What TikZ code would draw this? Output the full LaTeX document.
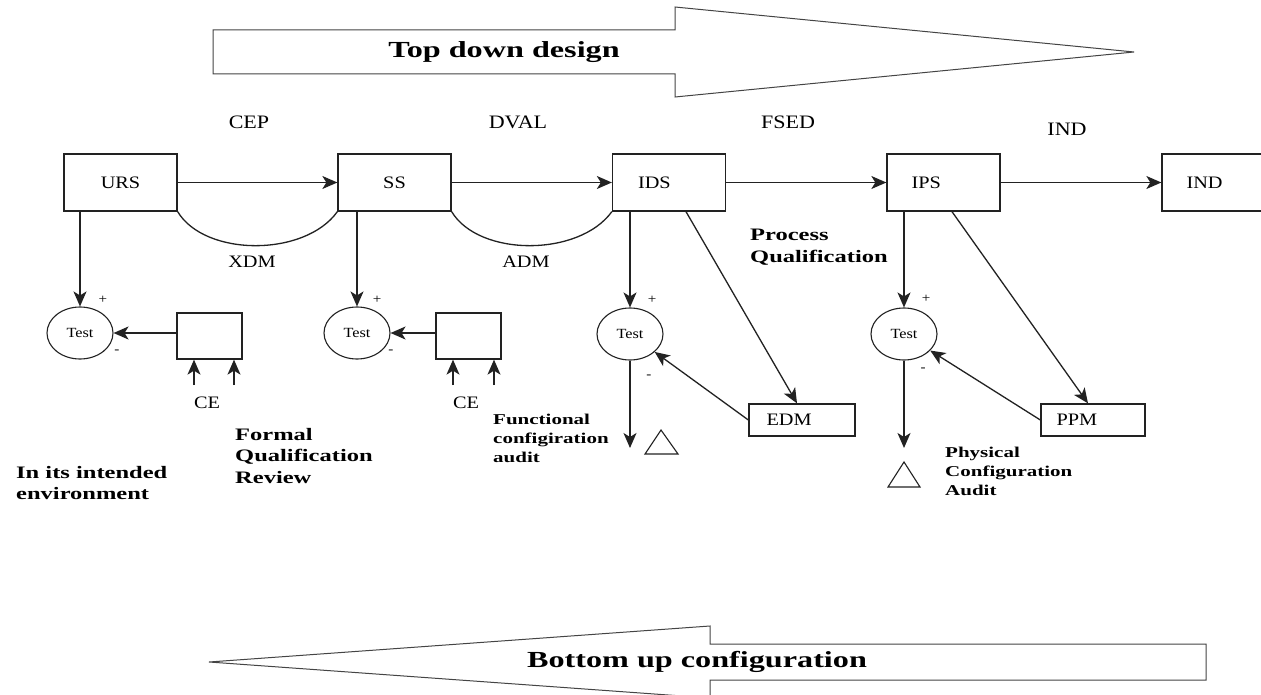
\documentclass[tikz,border=0pt]{standalone}
\usepackage{fontspec}
\setmainfont{Liberation Serif}
\newfontfamily\wideserif[FakeStretch=1.16]{Liberation Serif}
\newfontfamily\widebold[FakeStretch=1.4]{Liberation Serif}
\usetikzlibrary{arrows.meta,shapes.geometric}

\definecolor{ink}{HTML}{222222}
\definecolor{outline}{HTML}{444444}

\begin{document}
\begin{tikzpicture}[x=1pt,y=-1pt,
  line/.style={draw=ink, line width=1.3pt},
  arr/.style={line, -{Stealth[length=15pt,width=13pt,inset=4pt]}},
  boxfont/.style={font=\wideserif\fontsize{17.5}{20}\selectfont},
  stagebox/.style={draw=ink, line width=1.3pt, minimum width=113pt, minimum height=57pt,
    inner sep=0pt, boxfont},
  modelbox/.style={draw=ink, line width=1.3pt, minimum height=32pt, inner sep=0pt, boxfont},
  boxname/.style={anchor=west, inner sep=0pt, boxfont},
  testnode/.style={ellipse, draw=ink, line width=1.1pt, minimum width=66pt, minimum height=52pt,
    inner sep=0pt, font=\wideserif\fontsize{14}{16}\selectfont},
  feedbox/.style={draw=ink, line width=1.3pt, minimum width=65pt, minimum height=46pt, inner sep=0pt},
  phase/.style={inner sep=0pt, font=\wideserif\fontsize{19}{22}\selectfont},
  plain/.style={inner sep=0pt, boxfont},
  sign/.style={inner sep=0pt, font=\wideserif\fontsize{13}{15}\selectfont},
  note/.style={inner sep=0pt, align=left, anchor=north west, font=\widebold\bfseries\fontsize{17.5}{21.5}\selectfont},
  smallnote/.style={inner sep=0pt, align=left, anchor=north west, font=\widebold\bfseries\fontsize{15}{19}\selectfont},
  bigarrow/.style={draw=outline, line width=1pt, fill=white},
  bigtext/.style={inner sep=0pt, font=\widebold\bfseries\fontsize{23}{26}\selectfont}
]
\useasboundingbox (0,0) rectangle (1261,695);
\fill[white] (0,0) rectangle (1261,695);
\clip (0,0) rectangle (1261,695);

% broad direction arrows
\draw[bigarrow] (213,30) -- (675,30) -- (675,7) -- (1134,52) -- (675,97) -- (675,74) -- (213,74) -- cycle;
\node[bigtext] (topdown) at (504,52) {Top down design};
\draw[bigarrow] (1206,644) -- (710,644) -- (710,626) -- (209,662) -- (710,698) -- (710,680) -- (1206,680) -- cycle;
\node[bigtext] (bottomup) at (697,662) {Bottom up configuration};

% phase names
\node[phase] (cep)  at (249,122) {CEP};
\node[phase] (dval) at (518,122) {DVAL};
\node[phase] (fsed) at (788,122) {FSED};
\node[phase] (indp) at (1067,129) {IND};

% specification chain
\node[stagebox] (urs) at (120.5,182.5) {URS};
\node[stagebox] (ss)  at (394.5,182.5) {SS};
\node[stagebox, label={[boxname, xshift=26pt]west:IDS}] (ids) at (669,182.5) {};
\node[stagebox, label={[boxname, xshift=25pt]west:IPS}] (ips) at (943.5,182.5) {};
\node[stagebox, label={[boxname, xshift=25pt]west:IND}] (ind) at (1218.5,182.5) {};

\draw[arr] (urs) -- (ss);
\draw[arr] (ss) -- (ids);
\draw[arr] (ids) -- (ips);
\draw[arr] (ips) -- (ind);

% models linking neighbouring specifications
\draw[line] (urs.south east) .. controls (205,257) and (305,257) .. (ss.south west);
\draw[line] (ss.south east) .. controls (479,257) and (579,257) .. (ids.south west);
\node[plain] (xdm) at (252,262) {XDM};
\node[plain] (adm) at (526,262) {ADM};

% test comparators
\node[testnode] (t1) at (80,333) {Test};
\node[testnode] (t2) at (357,333) {Test};
\node[testnode] (t3) at (630,334) {Test};
\node[testnode] (t4) at (904,334) {Test};

\draw[arr] (t1 |- urs.south) -- (t1.north);
\draw[arr] (t2 |- ss.south) -- (t2.north);
\draw[arr] (t3 |- ids.south) -- (t3.north);
\draw[arr] (t4 |- ips.south) -- (t4.north);

\node[sign] (p1) at (103,300) {+};
\node[sign] (p2) at (377,300) {+};
\node[sign] (p3) at (652,300) {+};
\node[sign] (p4) at (926,299) {+};
\node[sign] (m1) at (117,352) {-};
\node[sign] (m2) at (391,352) {-};
\node[sign] (m3) at (649,377) {-};
\node[sign] (m4) at (923,370) {-};

% environment feedback blocks
\node[feedbox] (fb1) at (209.5,336) {};
\node[feedbox] (fb2) at (468.5,336) {};
\draw[arr] (fb1.west |- t1.east) -- (t1.east);
\draw[arr] (fb2.west |- t2.east) -- (t2.east);

\coordinate (ce1a) at (194,385);
\coordinate (ce1b) at (234,385);
\coordinate (ce2a) at (453,385);
\coordinate (ce2b) at (494,385);
\draw[arr] (ce1a) -- (ce1a |- fb1.south);
\draw[arr] (ce1b) -- (ce1b |- fb1.south);
\draw[arr] (ce2a) -- (ce2a |- fb2.south);
\draw[arr] (ce2b) -- (ce2b |- fb2.south);
\node[plain] (ce1) at (207,403) {CE};
\node[plain] (ce2) at (466,403) {CE};

% design and process models
\node[modelbox, minimum width=106pt, label={[boxname, xshift=18pt]west:EDM}] (edm) at (802,420) {};
\node[modelbox, minimum width=104pt, label={[boxname, xshift=16pt]west:PPM}] (ppm) at (1093,420) {};

\draw[arr] ([xshift=17pt]ids.south) -- ([xshift=-5pt]edm.north);
\draw[arr] ([xshift=8.5pt]ips.south) -- ([xshift=-5pt]ppm.north);
\draw[arr] (edm.west) -- (t3);
\draw[arr] (ppm.west) -- (t4);

% audits
\coordinate (fca) at (630,448);
\coordinate (pca) at (904,448);
\draw[arr] (t3.south) -- (fca);
\draw[arr] (t4.south) -- (pca);
\draw[ink, line width=1.1pt] (645,454) -- (661,430) -- (678,454) -- cycle;
\draw[ink, line width=1.1pt] (888,487) -- (904,462) -- (920,487) -- cycle;

% bold annotations
\node[note] (procq) at (750,229) {Process\\Qualification};
\node[smallnote] (funca) at (493,414) {Functional\\configiration\\audit};
\node[smallnote] (physa) at (945,447) {Physical\\Configuration\\Audit};
\node[note] (formal) at (235,428) {Formal\\Qualification\\Review};
\node[note] (intended) at (16,466) {In its intended\\environment};
\end{tikzpicture}
\end{document}
